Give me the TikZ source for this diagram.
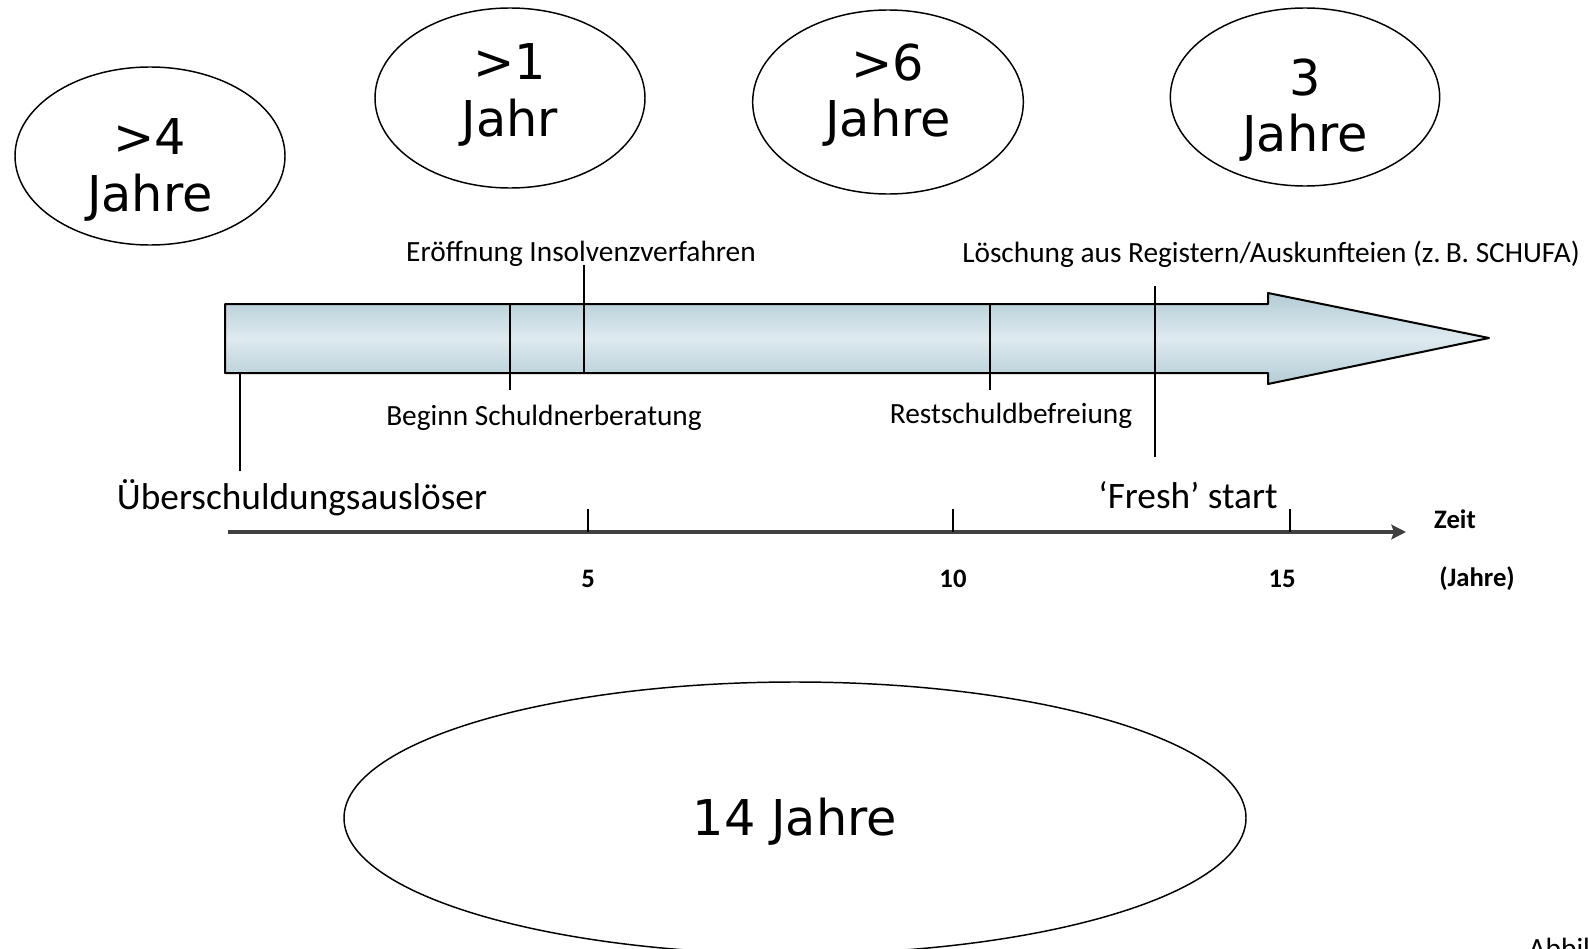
\documentclass[tikz,border=0pt]{standalone}
\usepackage{fontspec}
\setmainfont{Carlito}
\newfontfamily\ovalfont{DejaVu Sans}
\usetikzlibrary{shapes.geometric,arrows.meta}
\definecolor{arrowrim}{HTML}{B3CCD5}
\definecolor{arrowcore}{HTML}{DEEAEF}
\definecolor{axisgray}{HTML}{404040}
\begin{document}
\begin{tikzpicture}[x=0.75pt,y=-0.75pt,line join=round,
  oval/.style={draw,ellipse,line width=1.1pt,inner sep=0pt},
  ovaltext/.style={font=\ovalfont\fontsize{37}{42.5}\selectfont,align=center},
  note/.style={font=\fontsize{22}{26}\selectfont},
  bignote/.style={font=\fontsize{28}{32}\selectfont},
  scalelabel/.style={font=\bfseries\fontsize{20}{24}\selectfont},
  marker/.style={line width=1.2pt}]
\useasboundingbox (0,0) rectangle (1588,949);

% ovals with durations
\node[oval,minimum width=202.5pt,minimum height=133.5pt] (ovalA) at (150,156) {};
\node[oval,minimum width=202.5pt,minimum height=135pt] (ovalB) at (510,98) {};
\node[oval,minimum width=203pt,minimum height=138pt] (ovalC) at (888,102) {};
\node[oval,minimum width=202pt,minimum height=133.5pt] (ovalD) at (1305,97) {};
\node[oval,minimum width=676.5pt,minimum height=204pt] (ovalE) at (795,818) {};
\node[ovaltext] (durA) at (150,170) {>4\\Jahre};
\node[ovaltext] (durB) at (510,95) {>1\\Jahr};
\node[ovaltext] (durC) at (888,95) {>6\\Jahre};
\node[ovaltext] (durD) at (1305,110) {3\\Jahre};
\node[ovaltext] (durE) at (795,822) {14 Jahre};

% big process arrow
\shadedraw[top color=arrowrim,bottom color=arrowrim,middle color=arrowcore,line width=1.5pt]
  (225,304)--(1268,304)--(1268,293)--(1489,338)--(1268,384)--(1268,373)--(225,373)--cycle;

% markers on the arrow
\coordinate (trigTop) at (240,373);  \coordinate (trigEnd) at (240,471);
\coordinate (beraTop) at (510,304);  \coordinate (beraEnd) at (510,390);
\coordinate (eroeTop) at (584,265);  \coordinate (eroeEnd) at (584,373);
\coordinate (restTop) at (990,304);  \coordinate (restEnd) at (990,390);
\coordinate (loesTop) at (1155,286); \coordinate (loesEnd) at (1155,457);
\draw[marker](trigTop)--(trigEnd);
\draw[marker](beraTop)--(beraEnd);
\draw[marker](eroeTop)--(eroeEnd);
\draw[marker](restTop)--(restEnd);
\draw[marker](loesTop)--(loesEnd);

\node[note] (eroe) at (581,254) {Eröffnung Insolvenzverfahren};
\node[note] (loes) at (1271,254) {Löschung aus Registern/Auskunfteien (z.\,B. SCHUFA)};
\node[note] (bera) at (544,418) {Beginn Schuldnerberatung};
\node[note] (rest) at (1011,416) {Restschuldbefreiung};
\node[bignote] (trig) at (302,498) {Überschuldungsauslöser};
\node[bignote] (fresh) at (1188,495) {‘Fresh’ start};

% time axis
\coordinate (axisStart) at (228,532);
\coordinate (axisEnd) at (1406,532);
\draw[axisgray,line width=3.2pt,-{Stealth[length=11pt,width=11pt,inset=2pt]}](axisStart)--(axisEnd);
\foreach \x/\lx/\yr in {588/588/5,953/953/10,1290/1282/15}{
  \draw[line width=1.2pt](\x,509)--(\x,532);
  \node[scalelabel] at (\lx,579) {\yr};
}
\node[scalelabel] (zeit) at (1455,519) {Zeit};
\node[scalelabel] (jahre) at (1477,579) {(Jahre)};

\node[note,anchor=base west] (abb) at (1524,958) {Abbil};
\end{tikzpicture}
\end{document}
